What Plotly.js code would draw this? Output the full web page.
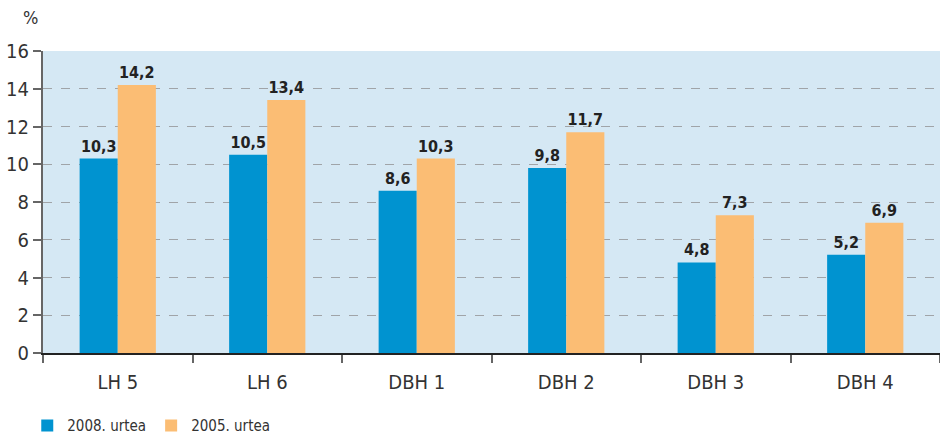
<!DOCTYPE html>
<html><head><meta charset="utf-8">
<script src="https://cdn.plot.ly/plotly-3.0.1.min.js"></script>
<style>body{margin:0}#c{width:940px;height:439px}</style>
</head><body><div id="c"></div>
<script>
var categories = ["LH 5", "LH 6", "DBH 1", "DBH 2", "DBH 3", "DBH 4"];
var series2008 = [10.3, 10.5, 8.6, 9.8, 4.8, 5.2];
var series2005 = [14.2, 13.4, 10.3, 11.7, 7.3, 6.9];
var seriesNames = ["2008. urtea", "2005. urtea"];
var yTicks = [0, 2, 4, 6, 8, 10, 12, 14, 16];

var font = "'DejaVu Sans Condensed', 'Open Sans', sans-serif";
function tr(y, name, color) {
  return {
    type: "bar", x: categories, y: y, name: name,
    marker: {color: color},
    texttemplate: "%{y:.1f}", textposition: "outside", cliponaxis: false,
    textfont: {family: font, size: 16, color: "#222", weight: "bold"}
  };
}
var data = [tr(series2008, seriesNames[0], "#0093d0"), tr(series2005, seriesNames[1], "#fbbd74")];
var layout = {
  width: 940, height: 439,
  margin: {l: 43, r: 0, t: 51, b: 86},
  paper_bgcolor: "#ffffff", plot_bgcolor: "#d5e8f4",
  separators: ",.",
  barmode: "group", bargap: 0.49, bargroupgap: 0,
  font: {family: font, color: "#333"},
  xaxis: {
    tickson: "boundaries", ticks: "outside", ticklen: 8, tickcolor: "#666", tickwidth: 2,
    showline: true, linecolor: "#222", linewidth: 1.5, automargin: false,
    tickfont: {size: 20, color: "#333"}, showgrid: false, ticklabelstandoff: 10
  },
  yaxis: {
    range: [0, 16], tickvals: yTicks, ticks: "outside", ticklen: 8, tickcolor: "#666", tickwidth: 1.5,
    showline: true, linecolor: "#666", linewidth: 2, automargin: false,
    gridcolor: "#a0a4a8", griddash: "dash", gridwidth: 1,
    zeroline: false, tickfont: {size: 20, color: "#333"}
  },
  legend: {orientation: "h", xref: "container", yref: "container", x: 0.029, xanchor: "left", y: 0.03, yanchor: "middle",
    font: {size: 15, color: "#333"}, itemwidth: 30, tracegroupgap: 0},
  showlegend: true,
  annotations: [{text: "%", xref: "paper", yref: "paper", x: -0.003, y: 1.11, xanchor: "right", yanchor: "middle", showarrow: false, font: {size: 18, color: "#333"}}]
};
Plotly.newPlot("c", data, layout, {displayModeBar: false});
</script></body></html>
